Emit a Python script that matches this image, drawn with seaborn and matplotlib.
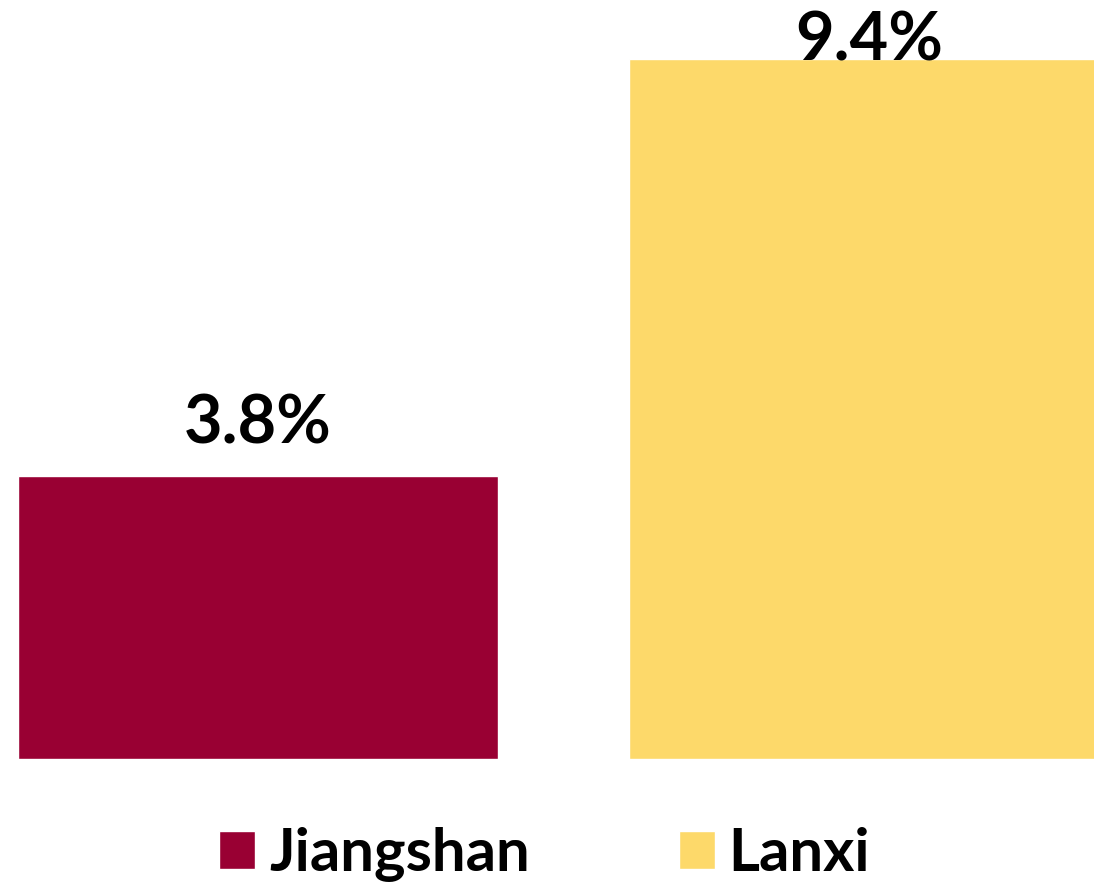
import matplotlib
matplotlib.use("Agg")
import matplotlib.pyplot as plt
import seaborn as sns
import pandas as pd

# ---- data ----
categories = ["Jiangshan", "Lanxi"]
values = [3.8, 9.4]
value_labels = ["3.8%", "9.4%"]
colors = ["#990033", "#FDD96A"]

sns.set_theme(style="white")
plt.rcParams['font.family'] = ['Lato', 'DejaVu Sans']
plt.rcParams['text.color'] = 'black'

W, H = 1094, 885
fig = plt.figure(figsize=(W / 100, H / 100), dpi=100)
base_px = 759
scale = 74.5  # px per unit
ax = fig.add_axes([0, (H - base_px) / H, 1, base_px / H])

df = pd.DataFrame({"city": categories, "value": values})
sns.barplot(data=df, x="city", y="value", hue="city", palette=colors,
            width=0.786, saturation=1, legend=False, ax=ax)

center0, step = 258, 611
ax.set_xlim(-center0 / step, (W - center0) / step)
ax.set_ylim(0, base_px / scale)
ax.axis('off')

label_offset = 0.43
label_max = 9.37
for i, (v, t) in enumerate(zip(values, value_labels)):
    ax.text(i, min(v + label_offset, label_max), t, ha='center', va='baseline',
            fontsize=48, fontweight='bold', color='black', clip_on=False,
            zorder=10)

handles = ax.patches[:len(categories)]
leg = fig.legend(handles, categories, loc='center', bbox_to_anchor=(0.498, 0.034),
                 ncol=2, frameon=False, prop={'size': 43, 'weight': 'bold'},
                 handlelength=0.6, handleheight=0.6, handletextpad=0.23,
                 columnspacing=2.5, borderpad=0, borderaxespad=0)
for t in leg.get_texts():
    t.set_color('black')

fig.savefig("out.png", dpi=100)
